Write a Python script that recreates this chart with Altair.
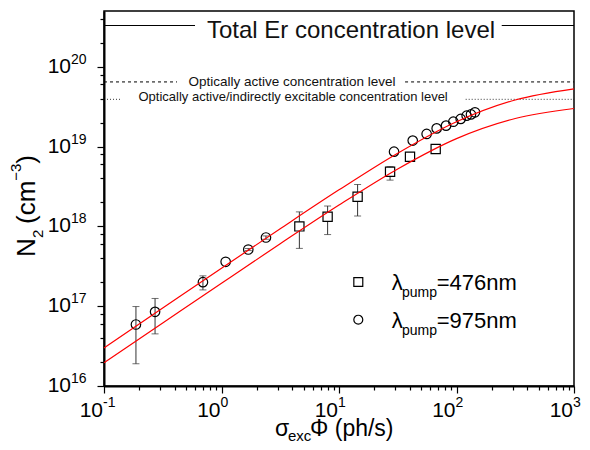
import altair as alt
import pandas as pd

# ---------------- data ----------------
sq_x = [4.6, 8.0, 14.4, 27.2, 40.2, 66.5]
sq_y = [1.0e18, 1.32e18, 2.35e18, 4.84e18, 7.46e18, 9.33e18]
sq_lo = [5.3e17, 7.9e17, 1.35e18, 3.8e18, 7.1e18, None]
sq_hi = [1.52e18, 1.8e18, 3.36e18, 5.6e18, 7.7e18, None]

ci_x = [0.187, 0.272, 0.695, 1.085, 1.69, 2.39, 29.4, 42.4, 55.7, 67.8, 81.5, 94.0, 108.6, 122.0, 132.8, 143.6]
ci_y = [5.9e16, 8.5e16, 2.0e17, 3.6e17, 5.13e17, 7.26e17, 8.63e18, 1.19e19, 1.44e19, 1.69e19,
        1.83e19, 2.05e19, 2.22e19, 2.44e19, 2.53e19, 2.69e19]
ci_lo = [1.9e16, 4.5e16, 1.6e17, None, 4.98e17, 6.9e17, None, None, None, None, None, None, None, None, None, None]
ci_hi = [9.9e16, 1.25e17, 2.4e17, None, 5.28e17, 7.6e17, None, None, None, None, None, None, None, None, None, None]

curve_x = [0.1, 0.316, 1.0, 3.16, 10.0, 31.6, 100.0, 316.0, 1000.0]
curve_upper = [3.0e16, 9.47e16, 2.99e17, 9.35e17, 2.87e18, 8.27e18, 2.05e19, 3.84e19, 5.3e19]
curve_lower = [1.95e16, 6.15e16, 1.94e17, 6.06e17, 1.85e18, 5.25e18, 1.26e19, 2.25e19, 3.0e19]

level_names = ["Total Er concentration level",
               "Optically active concentration level",
               "Optically active/indirectly excitable concentration level"]
level_values = [3.29e20, 6.46e19, 3.91e19]
level_gap_start = [0.595, 0.418, 0.142]
level_gap_end = [242.6, 36.5, 119.7]
level_text_x = [12.65, 3.98, 4.07]

x_decades = [0.1, 1, 10, 100, 1000]
x_exps = ["-1", "0", "1", "2", "3"]
y_decades = [1e16, 1e17, 1e18, 1e19, 1e20]
y_exps = ["16", "17", "18", "19", "20"]

legend_labels = ["=476nm", "=975nm"]
legend_shapes = ["square", "circle"]

# ---------------- tables ----------------
X_DOM = [0.1, 1000]
Y_DOM = [1e16, 5e20]
x_ticks = [d * m for d in [0.1, 1, 10, 100] for m in range(1, 10)] + [1000]
y_ticks = [d * m for d in [1e16, 1e17, 1e18, 1e19] for m in [1, 2, 4, 6, 8]] + [1e20, 2e20, 4e20]

is_decade = "abs(log(datum.value)/LN10 - round(log(datum.value)/LN10)) < 0.01"

xs = alt.Scale(type="log", domain=X_DOM, nice=False)
ys = alt.Scale(type="log", domain=Y_DOM, nice=False)

x_axis = alt.Axis(values=x_ticks, labels=False, title=None, grid=False,
                  domainColor="black", domainWidth=2, tickColor="black", tickWidth=1.2,
                  tickSize={"condition": {"test": is_decade, "value": 7}, "value": 4})
y_axis = alt.Axis(values=y_ticks, labels=False, title=None, grid=False,
                  domainColor="black", domainWidth=2, tickColor="black", tickWidth=1.2,
                  tickSize={"condition": {"test": is_decade, "value": 7}, "value": 4})

sq = pd.DataFrame({"x": sq_x, "y": sq_y, "lo": sq_lo, "hi": sq_hi})
ci = pd.DataFrame({"x": ci_x, "y": ci_y, "lo": ci_lo, "hi": ci_hi})
err = pd.concat([sq, ci]).dropna()

curves = pd.concat([
    pd.DataFrame({"x": curve_x, "y": curve_upper, "s": "upper"}),
    pd.DataFrame({"x": curve_x, "y": curve_lower, "s": "lower"}),
])

seg_rows = []
for n, v, g0, g1 in zip(level_names, level_values, level_gap_start, level_gap_end):
    seg_rows.append({"name": n, "y": v, "x": X_DOM[0], "x2": g0})
    seg_rows.append({"name": n, "y": v, "x": g1, "x2": X_DOM[1]})
segs = pd.DataFrame(seg_rows)
lev_txt = pd.DataFrame({"name": level_names, "y": level_values, "x": level_text_x})

xl = pd.DataFrame({"x": x_decades, "e": x_exps})
yl = pd.DataFrame({"y": y_decades, "e": y_exps})


def seg_layer(i, dash, width):
    return alt.Chart(segs[segs["name"] == level_names[i]]).mark_rule(
        color="black", strokeWidth=width, strokeDash=dash).encode(
        x=alt.X("x:Q", scale=xs, axis=x_axis), x2="x2:Q",
        y=alt.Y("y:Q", scale=ys, axis=y_axis))

lines_total = seg_layer(0, [1, 0], 1.2)
lines_active = seg_layer(1, [3, 3], 1.0)
lines_indirect = seg_layer(2, [1, 2], 0.8)

txt_sizes = [24, 13.5, 13]
txt_dy = [5, 0, -2]
level_texts = [
    alt.Chart(lev_txt.iloc[[i]]).mark_text(fontSize=txt_sizes[i], font="Liberation Sans",
                                           color="#111", baseline="middle", align="center",
                                           dy=txt_dy[i]).encode(
        x=alt.X("x:Q", scale=xs), y=alt.Y("y:Q", scale=ys), text="name:N")
    for i in range(3)
]

err_rule = alt.Chart(err).mark_rule(color="#333", strokeWidth=1).encode(
    x=alt.X("x:Q", scale=xs), y=alt.Y("lo:Q", scale=ys), y2="hi:Q")
cap_lo = alt.Chart(err).mark_tick(orient="horizontal", size=7, thickness=1, color="#333").encode(
    x=alt.X("x:Q", scale=xs), y=alt.Y("lo:Q", scale=ys))
cap_hi = alt.Chart(err).mark_tick(orient="horizontal", size=7, thickness=1, color="#333").encode(
    x=alt.X("x:Q", scale=xs), y=alt.Y("hi:Q", scale=ys))

squares = alt.Chart(sq).mark_point(shape="square", filled=True, fill="white", stroke="black",
                                   strokeWidth=1.2, size=85, opacity=1).encode(
    x=alt.X("x:Q", scale=xs), y=alt.Y("y:Q", scale=ys))
circles = alt.Chart(ci).mark_point(shape="circle", filled=False, stroke="black",
                                   strokeWidth=1.2, size=90, opacity=1).encode(
    x=alt.X("x:Q", scale=xs), y=alt.Y("y:Q", scale=ys))

red = alt.Chart(curves).mark_line(color="red", strokeWidth=1.2, interpolate="monotone").encode(
    x=alt.X("x:Q", scale=xs), y=alt.Y("y:Q", scale=ys), detail="s:N")

# tick labels "10" with superscript exponent
xl_main = alt.Chart(xl).mark_text(fontSize=21, font="Liberation Sans", align="right",
                                  baseline="middle", dx=-1, color="black").encode(
    x=alt.X("x:Q", scale=xs), y=alt.value(400), text=alt.value("10"))
xl_exp = alt.Chart(xl).mark_text(fontSize=14, font="Liberation Sans", align="left",
                                 baseline="middle", dx=-1, color="black").encode(
    x=alt.X("x:Q", scale=xs), y=alt.value(392), text="e:N")
yl_main = alt.Chart(yl).mark_text(fontSize=21, font="Liberation Sans", align="right",
                                  baseline="middle", color="black").encode(
    x=alt.value(-33), y=alt.Y("y:Q", scale=ys), text=alt.value("10"))
yl_exp = alt.Chart(yl).mark_text(fontSize=14, font="Liberation Sans", align="left",
                                 baseline="middle", dy=-7, color="black").encode(
    x=alt.value(-33), y=alt.Y("y:Q", scale=ys), text="e:N")

# axis titles built from parts (sub/superscripts)
def txt(t, x, y, size, angle=0, align="left"):
    return alt.Chart(pd.DataFrame({"t": [t]})).mark_text(
        fontSize=size, font="Liberation Sans", align=align, baseline="alphabetic",
        angle=angle, color="black").encode(x=alt.value(x), y=alt.value(y), text="t:N")

x_title = [txt("σ", 171, 425, 23), txt("exc", 184, 430, 15), txt("Φ (ph/s)", 206, 425, 23)]
y_title = [txt("N", -69, 246, 26, 270), txt("2", -61, 227, 15, 270),
           txt("(cm", -69, 213, 26, 270), txt("−3", -83, 169.7, 15, 270),
           txt(")", -69, 152.7, 26, 270)]

# legend
leg_rows = []
for i, (lab, shp) in enumerate(zip(legend_labels, legend_shapes)):
    leg_rows.append({"lab": lab, "shape": shp, "my": 271 + 37.7 * i, "ty": 279 + 38 * i})
leg = pd.DataFrame(leg_rows)
leg_sq = alt.Chart(leg[leg["shape"] == "square"]).mark_point(
    shape="square", filled=False, stroke="black", strokeWidth=1.2, size=80, opacity=1).encode(
    x=alt.value(254.3), y=alt.Y("my:Q", scale=None))
leg_ci = alt.Chart(leg[leg["shape"] == "circle"]).mark_point(
    shape="circle", filled=False, stroke="black", strokeWidth=1.2, size=80, opacity=1).encode(
    x=alt.value(254.3), y=alt.Y("my:Q", scale=None))
leg_lam = alt.Chart(leg).mark_text(fontSize=22, font="Liberation Sans", align="left",
                                   baseline="alphabetic", color="black").encode(
    x=alt.value(287.7), y=alt.Y("ty:Q", scale=None), text=alt.value("λ"))
leg_pump = alt.Chart(leg).mark_text(fontSize=14, font="Liberation Sans", align="left",
                                    baseline="alphabetic", dy=7, color="black").encode(
    x=alt.value(298), y=alt.Y("ty:Q", scale=None), text=alt.value("pump"))
leg_lab = alt.Chart(leg).mark_text(fontSize=22, font="Liberation Sans", align="left",
                                   baseline="alphabetic", color="black").encode(
    x=alt.value(332.7), y=alt.Y("ty:Q", scale=None), text="lab:N")

chart = alt.layer(
    lines_total, lines_active, lines_indirect, *level_texts,
    err_rule, cap_lo, cap_hi, squares, circles, red,
    xl_main, xl_exp, yl_main, yl_exp, *x_title, *y_title,
    leg_sq, leg_ci, leg_lam, leg_pump, leg_lab,
).resolve_scale(y="shared").properties(
    width=470, height=375,
    autosize=alt.AutoSizeParams(type="none"),
    padding={"left": 96, "top": 3, "right": 8, "bottom": 56},
    background="white",
).configure_view(stroke="black", strokeWidth=1.5)

chart.save("out.html", embed_options={"renderer": "svg", "actions": False})
